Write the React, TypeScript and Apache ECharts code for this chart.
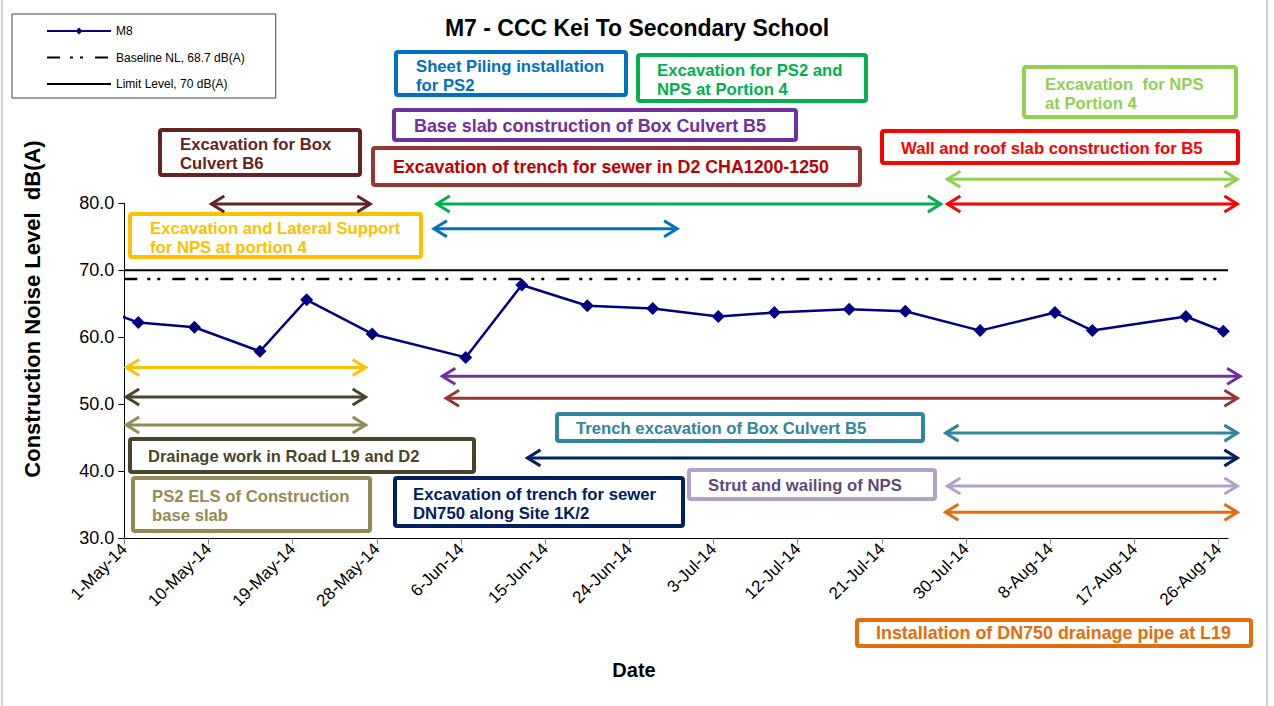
import React, { useEffect, useRef } from 'react';
import * as echarts from 'echarts';

// ---------- data ----------
const tickLabels = ['1-May-14', '10-May-14', '19-May-14', '28-May-14', '6-Jun-14', '15-Jun-14', '24-Jun-14', '3-Jul-14', '12-Jul-14', '21-Jul-14', '30-Jul-14', '8-Aug-14', '17-Aug-14', '26-Aug-14'];
const tickStepDays = 9;
const axisStartDate = '2014-05-01';
const axisEndDay = 118; // 27-Aug-14

const m8Dates = ['2014-04-24', '2014-05-02', '2014-05-08', '2014-05-15', '2014-05-20', '2014-05-27', '2014-06-06', '2014-06-12', '2014-06-19', '2014-06-26', '2014-07-03', '2014-07-09', '2014-07-17', '2014-07-23', '2014-07-31', '2014-08-08', '2014-08-12', '2014-08-22', '2014-08-26'];
const m8Values = [66.3, 62.2, 61.5, 57.9, 65.6, 60.5, 57.0, 67.8, 64.7, 64.3, 63.1, 63.7, 64.2, 63.9, 61.0, 63.7, 61.0, 63.1, 60.9];

const baselineLevel = 68.7;
const limitLevel = 70;

// activity arrows: start day, end day (days from 1-May-14), drawn level (dB)
const arrowStart = [9.3, 33.4, 88.0, 88.0, 33.1, 0.2, 0.2, 0.2, 34.0, 34.4, 87.8, 43.1, 88.0, 87.8];
const arrowEnd = [26.3, 87.3, 119.0, 119.0, 59.1, 25.8, 25.8, 25.8, 119.3, 119.0, 119.0, 119.0, 119.0, 119.0];
const arrowLevel = [79.9, 79.9, 83.6, 79.9, 76.2, 55.5, 51.1, 46.9, 54.2, 50.9, 45.7, 42.0, 37.8, 33.9];
const arrowColors = ['#632523', '#00B050', '#92D050', '#FF0000', '#0070C0', '#FFC000', '#4A452A', '#948A54', '#7030A0', '#953735', '#31859C', '#002060', '#B3A2C7', '#E46C0A'];

// annotation labels
const boxTexts = [
  'Sheet Piling installation\nfor PS2',
  'Excavation for PS2 and\nNPS at Portion 4',
  'Excavation  for NPS\nat Portion 4',
  'Base slab construction of Box Culvert B5',
  'Excavation for Box\nCulvert B6',
  'Excavation of trench for sewer in D2 CHA1200-1250',
  'Wall and roof slab construction for B5',
  'Excavation and Lateral Support\nfor NPS at portion 4',
  'Drainage work in Road L19 and D2',
  'PS2 ELS of Construction\nbase slab',
  'Excavation of trench for sewer\nDN750 along Site 1K/2',
  'Trench excavation of Box Culvert B5',
  'Strut and wailing of NPS',
  'Installation of DN750 drainage pipe at L19',
];
const boxBorder = ['#0070C0', '#00B050', '#92D050', '#7030A0', '#632523', '#953735', '#FF0000', '#FFC000', '#4A452A', '#948A54', '#002060', '#31859C', '#B3A2C7', '#E46C0A'];
const boxTextColor = ['#0070C0', '#00B050', '#92D050', '#7030A0', '#632523', '#C00000', '#FF0000', '#FFC000', '#4A452A', '#948A54', '#002060', '#31859C', '#604A7B', '#E46C0A'];
// layout: [x, y, w, h, textX, firstLineCenterY, fontSize]
const boxLayout = [
  [396, 52, 230, 43, 416, 66, 16.7],
  [638, 55, 228, 46, 657, 70, 16.7],
  [1024, 67, 212, 50, 1045, 84, 16.7],
  [394, 110, 402, 30, 414, 126, 17.9],
  [160, 130, 200, 45, 180, 144, 16.7],
  [373, 148, 487, 37, 393, 167, 17.8],
  [882, 131, 356, 32, 901, 148, 16.7],
  [130, 214, 291, 43, 150, 228, 16.7],
  [130, 439, 344, 33, 148, 456, 16.5],
  [133, 478, 237, 53, 152, 496, 16.7],
  [395, 478, 288, 48, 413, 494, 16.7],
  [557, 414, 366, 27, 576, 428, 16.7],
  [689, 470, 246, 29, 708, 485, 16.7],
  [857, 620, 394, 26, 876, 633, 17.9],
];

const FONT = '"Liberation Sans", Arial, sans-serif';

const dayIndex = (d: string) => (Date.parse(d) - Date.parse(axisStartDate)) / 86400000;

export default function App() {
  const ref = useRef<HTMLDivElement>(null);

  useEffect(() => {
    if (!ref.current) return;
    const chart = echarts.init(ref.current, undefined, { renderer: 'svg' });

    const tickDays = tickLabels.map((_, i) => i * tickStepDays);
    const m8Data = m8Dates.map((d, i) => [dayIndex(d) + 0.5, m8Values[i]]);
    const arrowData = arrowStart.map((s, i) => [s, arrowEnd[i], arrowLevel[i]]);

    const lineH = 19;
    const boxGraphics: any[] = boxTexts.map((t, i) => {
      const [x, y, w, h, tx, ty, fs] = boxLayout[i];
      return {
        type: 'group',
        children: [
          { type: 'rect', shape: { x, y, width: w, height: h, r: 2 }, style: { fill: '#fff', stroke: boxBorder[i], lineWidth: 4 } },
          {
            type: 'text',
            style: {
              x: tx, y: ty - lineH / 2, text: t, fill: boxTextColor[i],
              font: `bold ${fs}px ${FONT}`, lineHeight: lineH, verticalAlign: 'top', align: 'left',
            },
          },
        ],
      };
    });

    const option: any = {
      animation: false,
      backgroundColor: '#fff',
      textStyle: { fontFamily: FONT },
      title: {
        text: 'M7 - CCC Kei To Secondary School',
        left: 'center',
        top: 16,
        padding: 0,
        textStyle: { fontFamily: FONT, fontWeight: 'bold', fontSize: 23, color: '#000' },
      },
      legend: {
        orient: 'vertical',
        left: 12,
        top: 14,
        padding: [11, 31, 8, 34],
        itemWidth: 64,
        itemHeight: 9,
        itemGap: 14.5,
        borderColor: '#404040',
        borderWidth: 1,
        textStyle: { fontFamily: FONT, fontSize: 12, color: '#000' },
        data: [
          { name: 'M8' },
          { name: 'Baseline NL, 68.7 dB(A)', itemStyle: { opacity: 0 } },
          { name: 'Limit Level, 70 dB(A)', itemStyle: { opacity: 0 } },
        ],
      },
      grid: { left: 124.3, right: 46, top: 203.3, bottom: 167.7, containLabel: false },
      xAxis: {
        type: 'value',
        min: 0,
        max: axisEndDay,
        interval: tickStepDays,
        axisLine: { show: true, lineStyle: { color: '#000', width: 1 } },
        axisTick: { show: true, length: 6, customValues: tickDays, lineStyle: { color: '#808080' } },
        axisLabel: {
          customValues: tickDays,
          rotate: 45,
          fontSize: 17,
          color: '#000',
          margin: 8,
          fontFamily: FONT,
          formatter: (v: number) => (v % tickStepDays === 0 && v / tickStepDays < tickLabels.length ? tickLabels[v / tickStepDays] : ''),
        },
        splitLine: { show: false },
      },
      yAxis: {
        type: 'value',
        min: 30,
        max: 80,
        interval: 10,
        axisLine: { show: true, lineStyle: { color: '#000', width: 1 } },
        axisTick: { show: true, length: 6, lineStyle: { color: '#000' } },
        axisLabel: { fontSize: 18, color: '#000', margin: 10, fontFamily: FONT, formatter: (v: number) => v.toFixed(1) },
        splitLine: { show: false },
      },
      series: [
        {
          name: 'Limit Level, 70 dB(A)',
          type: 'line',
          symbol: 'none',
          data: [[0, limitLevel], [axisEndDay, limitLevel]],
          lineStyle: { color: '#000', width: 2, type: 'solid' },
          itemStyle: { color: '#000' },
          z: 3,
        },
        {
          name: 'Baseline NL, 68.7 dB(A)',
          type: 'line',
          symbol: 'none',
          data: [[0, baselineLevel], [axisEndDay, baselineLevel]],
          lineStyle: { color: '#000', width: 2.5, type: [13, 10, 3, 7, 3, 12] },
          itemStyle: { color: '#000' },
          z: 3,
        },
        {
          name: 'M8',
          type: 'line',
          data: m8Data,
          symbol: 'diamond',
          symbolSize: 13,
          clip: true,
          lineStyle: { color: '#000080', width: 2.5 },
          itemStyle: { color: '#000080' },
          z: 5,
        },
        {
          type: 'custom',
          silent: true,
          clip: false,
          encode: { x: [0, 1], y: 2 },
          data: arrowData,
          z: 2,
          renderItem: (params: any, api: any) => {
            const s = api.coord([api.value(0), api.value(2)]);
            const e = api.coord([api.value(1), api.value(2)]);
            const color = arrowColors[params.dataIndex];
            const hl = 13;
            const hw = 8;
            const style = { stroke: color, lineWidth: 3, fill: null };
            return {
              type: 'group',
              children: [
                { type: 'line', shape: { x1: s[0], y1: s[1], x2: e[0], y2: e[1] }, style },
                { type: 'polyline', shape: { points: [[s[0] + hl, s[1] - hw], [s[0], s[1]], [s[0] + hl, s[1] + hw]] }, style },
                { type: 'polyline', shape: { points: [[e[0] - hl, e[1] - hw], [e[0], e[1]], [e[0] - hl, e[1] + hw]] }, style },
              ],
            };
          },
        },
      ],
      graphic: [
        { type: 'rect', shape: { x: 2, y: -5, width: 1265, height: 720 }, style: { fill: null, stroke: '#A6A6A6', lineWidth: 1 }, silent: true },
        ...boxGraphics,
        {
          type: 'text',
          x: 32,
          y: 309,
          rotation: Math.PI / 2,
          style: { text: 'Construction Noise Level  dB(A)', font: `bold 22px ${FONT}`, fill: '#000', align: 'center', verticalAlign: 'middle' },
        },
        {
          type: 'text',
          x: 634,
          y: 670,
          style: { text: 'Date', font: `bold 20px ${FONT}`, fill: '#000', align: 'center', verticalAlign: 'middle' },
        },
      ],
    };

    chart.setOption(option);
    return () => chart.dispose();
  }, []);

  return <div ref={ref} style={{ position: 'fixed', left: 0, top: 0, width: 1274, height: 706 }} />;
}
